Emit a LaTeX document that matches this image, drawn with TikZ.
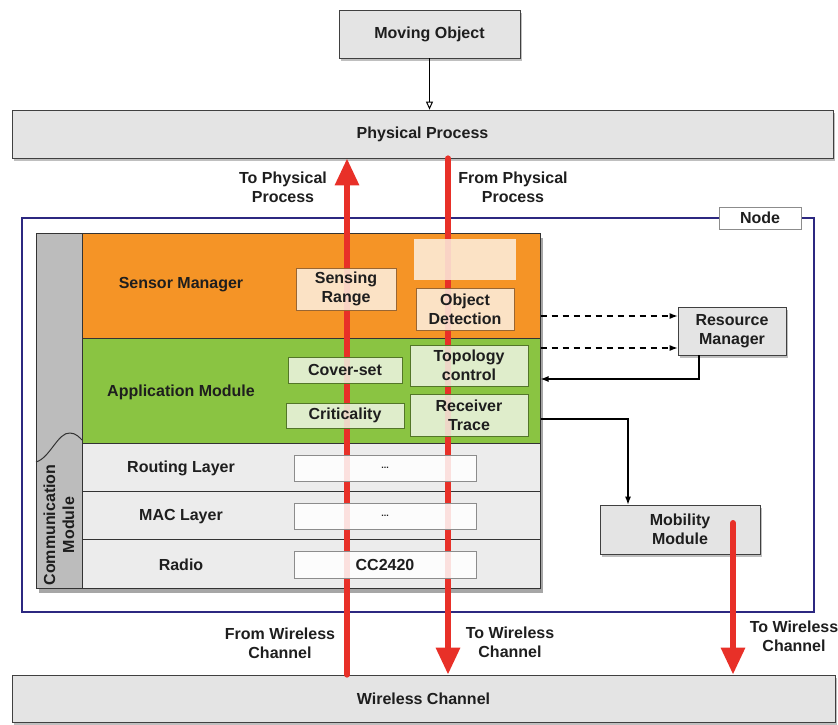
\documentclass[tikz,border=0pt]{standalone}
\usepackage{fontspec}
\setmainfont{Liberation Sans}
\usetikzlibrary{arrows.meta,shadows,positioning}

\definecolor{smorange}{RGB}{245,148,38}
\definecolor{amgreen}{RGB}{138,196,66}
\definecolor{nodeblue}{RGB}{44,40,128}
\definecolor{flowred}{RGB}{232,48,40}
\definecolor{boxgray}{RGB}{228,228,228}
\definecolor{rowgray}{RGB}{236,236,236}
\definecolor{colgray}{RGB}{188,188,188}
\definecolor{cream}{RGB}{253,240,225}
\definecolor{palegreen}{RGB}{238,245,228}
\definecolor{inkgray}{RGB}{30,30,30}

\tikzset{every picture/.style={line width=0.75pt}}
\tikzset{
  lbl/.style={font=\fontsize{16}{19}\selectfont\bfseries, text=inkgray, align=center, inner sep=0pt},
  greybox/.style={lbl, draw=black!75, fill=boxgray, drop shadow={shadow xshift=2pt, shadow yshift=-3pt, opacity=0.5}},
  rowbox/.style={draw=black!80, line width=1pt, minimum width=458pt, inner sep=0pt},
  orangebox/.style={lbl, draw=brown!80!black, fill=cream, fill opacity=0.85, text opacity=1},
  greenbox/.style={lbl, draw=amgreen!60!black, fill=palegreen, fill opacity=0.85, text opacity=1},
  layerbox/.style={lbl, draw=black!45, fill=white, fill opacity=0.85, text opacity=1, minimum width=182pt, minimum height=26pt},
  flow/.style={draw=flowred, line width=6pt, line cap=round},
  flowtip/.style={-{Triangle[width=23pt,length=27pt]}},
  dasharrow/.style={dashed, dash pattern=on 6pt off 5pt, line width=1.2pt, -{Latex[length=8pt,width=6pt]}},
  arr/.style={line width=1.2pt, -{Latex[length=8pt,width=6pt]}}
}

\begin{document}
\begin{tikzpicture}[x=1pt,y=1pt,yscale=-1,xscale=1]
\useasboundingbox (0,0) rectangle (838,724);

% Environment boxes
\node (physical) [greybox, minimum width=821pt, minimum height=48pt] at (422.5,134) {Physical Process};
\node (wireless) [greybox, minimum width=823pt, minimum height=47pt] at (423.5,698.5) {Wireless Channel};
\node (moving) [greybox, minimum width=181pt, minimum height=48pt] at (429.5,34) {Moving Object};
\draw [line width=1pt, -{Triangle[open,length=8pt,width=7pt]}] (moving.south) -- (physical.north -| moving.south);

% Node frame
\node (nodeframe) [draw=nodeblue, line width=2pt, minimum width=792pt, minimum height=394pt, inner sep=0pt] at (418,415) {};
\node (nodelbl) [lbl, draw=black!45, fill=white, minimum width=82pt, minimum height=22pt] at (760,218) {Node};

% Stack
\path [fill=colgray, drop shadow={shadow xshift=3pt, shadow yshift=-5pt, opacity=0.7}] (36,233) rectangle (540,588);
\node (sensor) [rowbox, fill=smorange, minimum height=105pt] at (311,285.5) {};
\node (app) [rowbox, fill=amgreen, minimum height=105pt] at (311,390.5) {};
\node (routing) [rowbox, fill=rowgray, minimum height=48pt] at (311,467) {};
\node (mac) [rowbox, fill=rowgray, minimum height=48pt] at (311,515) {};
\node (radio) [rowbox, fill=rowgray, minimum height=49pt] at (311,563.5) {};
\draw [black!80, line width=1pt] (36,233) rectangle (82,588);
%Shape: Wave
\draw [black!80, line width=1pt] (36,462) .. controls (50,458) and (58,432) .. (70,433) .. controls (76,433) and (80,438) .. (82,440);
\node (commlbl) [lbl, rotate=90] at (59,525) {Communication\\Module};

% Row labels
\node (sensorlbl) [lbl] at (181,285) {Sensor Manager};
\node (applbl) [lbl] at (181,392) {Application Module};
\node (routinglbl) [lbl] at (181,468) {Routing Layer};
\node (maclbl) [lbl] at (181,517) {MAC Layer};
\node (radiolbl) [lbl] at (181,565) {Radio};

% Red flows through the stack
\coordinate (upx) at (347,0);
\coordinate (downx) at (448,0);
\draw [flow, flowtip] (wireless.north -| upx) -- (physical.south -| upx);
\draw [flow, flowtip] (physical.south -| downx) -- (wireless.north -| downx);

% Inner boxes
\node (sensing) [orangebox, minimum width=100pt, minimum height=42pt] at (346,289) {Sensing\\Range};
\node (blank) [fill=cream, fill opacity=0.85, minimum width=102pt, minimum height=41pt, inner sep=0pt] at (465,259.5) {};
\node (objdet) [orangebox, minimum width=98pt, minimum height=42pt] at (465,309) {Object\\Detection};
\node (coverset) [greenbox, minimum width=114pt, minimum height=26pt] at (345,370) {Cover-set};
\node (critic) [greenbox, minimum width=118pt, minimum height=25pt] at (345,415.5) {Criticality};
\node (topo) [greenbox, minimum width=118pt, minimum height=41pt] at (469,365.5) {Topology\\control};
\node (recv) [greenbox, minimum width=118pt, minimum height=42pt] at (469,415) {Receiver\\Trace};
\node (routebox) [layerbox] at (385,468) {\fontsize{9}{9}\selectfont ...};
\node (macbox) [layerbox] at (385,516) {\fontsize{9}{9}\selectfont ...};
\node (radiobox) [layerbox, minimum height=27pt] at (385,564.5) {CC2420};

% Side modules
\node (resource) [greybox, minimum width=108pt, minimum height=48pt] at (732,331) {Resource\\Manager};
\node (mobility) [greybox, minimum width=160pt, minimum height=49pt] at (680,529.5) {Mobility\\Module};
\coordinate (mobx) at (733,523);
\draw [flow, flowtip] (mobx) -- (wireless.north -| mobx);

% Control arrows
\draw [dasharrow] (sensor.east |- 0,316) -- (resource.west |- 0,316);
\draw [dasharrow] (app.east |- 0,348) -- (resource.west |- 0,348);
\draw [arr] (resource.south -| 699,0) |- (app.east |- 0,379);
\draw [arr] (app.east |- 0,419) -| (mobility.north -| 628,0);

% Flow labels
\node (tophys) [lbl] at (283,187) {To Physical\\Process};
\node (fromphys) [lbl] at (513,187) {From Physical\\Process};
\node (fromwl) [lbl] at (280,643) {From Wireless\\Channel};
\node (towl) [lbl] at (510,642) {To Wireless\\Channel};
\node (towlmob) [lbl] at (794,636) {To Wireless\\Channel};

\end{tikzpicture}
\end{document}
